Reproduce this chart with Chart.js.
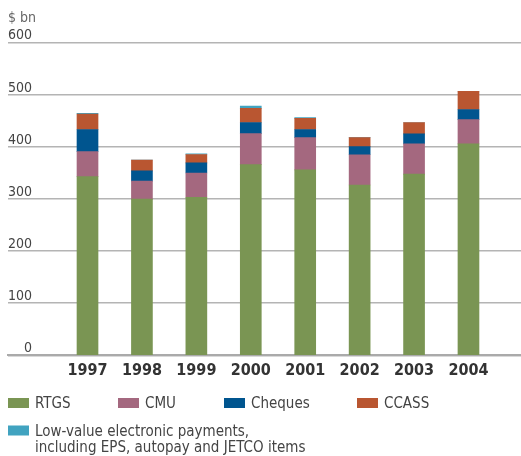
<!DOCTYPE html>
<html><head><meta charset="utf-8">
<script src="https://cdn.jsdelivr.net/npm/chart.js@4"></script>
<style>html,body{margin:0;padding:0;background:#fff}#wrap{width:521px;height:456px;position:relative}</style>
</head><body><div id="wrap"><canvas id="c"></canvas></div>
<script>
// ---- data ----
const years = [1997, 1998, 1999, 2000, 2001, 2002, 2003, 2004];
const rtgs    = [343, 300, 303.5, 366, 356, 327, 348, 406];
const cmu     = [48, 34.5, 46.5, 59.6, 62, 58, 58, 46.6];
const cheques = [42.6, 19.5, 19.5, 21.4, 15.6, 15.6, 19, 19.4];
const ccass   = [29.7, 21, 16, 27.2, 21.4, 17.4, 22, 35];
const lowValue = [1.5, 0, 1.5, 4.5, 1.5, 0, 0, 0];
const yTicks = [0, 100, 200, 300, 400, 500, 600];
const seriesNames = ['RTGS', 'CMU', 'Cheques', 'CCASS',
  ['Low-value electronic payments,', 'including EPS, autopay and JETCO items']];
const unitLabel = '$ bn';

// ---- styles / layout ----
const colors = ['#7a9553', '#a4687f', '#00558f', '#b95631', '#41a3c0'];
const FONT = '"Liberation Sans Narrow", "DejaVu Sans Condensed", "Liberation Sans", sans-serif';
const legendPos = [{x: 8, y: 408}, {x: 118, y: 408}, {x: 224, y: 408}, {x: 357, y: 408}, {x: 8, y: 435.5}];
const LEGEND_LINE = 16;

const customLegend = {
  id: 'customLegend',
  afterDraw(chart) {
    const ctx = chart.ctx;
    ctx.save();
    ctx.font = '15px ' + FONT;
    ctx.textBaseline = 'alphabetic';
    ctx.textAlign = 'left';
    chart.data.datasets.forEach((ds, i) => {
      const p = legendPos[i];
      ctx.fillStyle = ds.backgroundColor;
      ctx.fillRect(p.x, p.y - 10, 21, 10);
      ctx.fillStyle = '#444';
      const lines = Array.isArray(ds.label) ? ds.label : [ds.label];
      lines.forEach((t, j) => ctx.fillText(t, p.x + 27, p.y + j * LEGEND_LINE));
    });
    ctx.restore();
  }
};

const seriesData = [rtgs, cmu, cheques, ccass, lowValue];
new Chart(document.getElementById('c'), {
  type: 'bar',
  data: {
    labels: years,
    datasets: seriesData.map((d, i) => ({
      label: seriesNames[i],
      data: d,
      backgroundColor: colors[i],
      borderWidth: 0,
      barThickness: 21
    }))
  },
  plugins: [customLegend],
  options: {
    responsive: true,
    maintainAspectRatio: false,
    animation: false,
    layout: {padding: {left: 8, right: 0, top: 0, bottom: 69.5}},
    plugins: {
      legend: {display: false},
      tooltip: {enabled: false},
      title: {
        display: true, text: unitLabel, align: 'start',
        color: '#666', font: {family: FONT, size: 14, weight: 'normal'},
        padding: {top: 10, bottom: 16}
      }
    },
    scales: {
      x: {
        type: 'linear', stacked: true, offset: false,
        min: 1995.539, max: 2004.965,
        afterBuildTicks: (s) => { s.ticks = years.map(v => ({value: v})); },
        grid: {display: false, drawTicks: false},
        border: {display: true, color: '#aaaaaa', width: 2},
        ticks: {color: '#333', padding: 6, font: {family: FONT, size: 16, weight: '600'},
                maxRotation: 0, autoSkip: false, callback: (v) => String(v)}
      },
      y: {
        stacked: true, min: 0, max: 600,
        afterBuildTicks: (s) => { s.ticks = yTicks.map(v => ({value: v})); },
        grid: {color: '#b4b4b4', lineWidth: 1.5, drawTicks: false},
        border: {display: false},
        ticks: {mirror: true, crossAlign: 'far', padding: 0, labelOffset: -7,
                color: '#444', font: {family: FONT, size: 14}}
      }
    }
  }
});
</script></body></html>
